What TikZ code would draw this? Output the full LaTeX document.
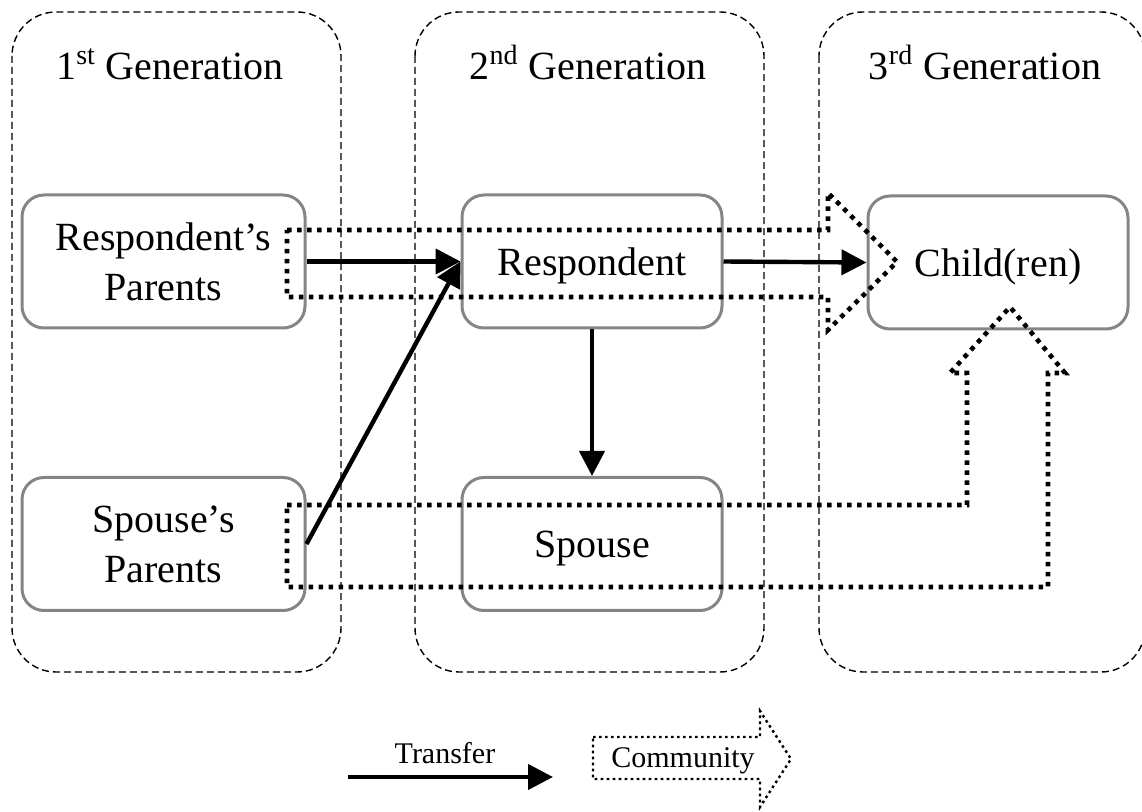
\documentclass[tikz,border=0pt]{standalone}
\usepackage{fontspec}
\setmainfont{Liberation Serif}
\usepackage{tikz}
\usetikzlibrary{arrows.meta,calc}
\definecolor{boxGray}{HTML}{858585}

\begin{document}
\begin{tikzpicture}[x=0.5pt,y=-0.5pt,
  person/.style={draw=boxGray,line width=1.5pt,rounded corners=11pt,inner sep=0pt,
    minimum height=66.5pt,align=center,font=\fontsize{20}{25}\selectfont},
  single/.style={person,text depth=0pt},
  genbox/.style={draw,line width=0.7pt,dash pattern=on 3.5pt off 2pt,rounded corners=22pt},
  gentitle/.style={anchor=base,font=\fontsize{20}{24}\selectfont},
  transfer/.style={line width=2.2pt,-{Triangle[length=12.5pt,width=12.5pt]}},
  community/.style={line width=2.3pt,dash pattern=on 2.3pt off 2.7pt,miter limit=4},
  legendtext/.style={anchor=base,font=\fontsize{15}{18}\selectfont}]
\useasboundingbox (0,0) rectangle (1142,812);
% kusaklar
\foreach \xa/\xb in {12/341,415/764,819/1145}
  \draw[genbox] (\xa,12) rectangle (\xb,672);
\node[gentitle] (gen1) at (170,80) {1\textsuperscript{st} Generation};
\node[gentitle] (gen2) at (588,80) {2\textsuperscript{nd} Generation};
\node[gentitle] (gen3) at (985,80) {3\textsuperscript{rd} Generation};
% kisiler
\node[person,minimum width=141.5pt] (rp) at (163.5,261.5) {Respondent’s\\Parents};
\node[person,minimum width=141.5pt] (sp) at (163.5,544) {Spouse’s\\Parents};
\node[single,minimum width=130pt] (resp) at (592,261.5) {Respondent};
\node[single,minimum width=130pt] (spouse) at (592,544) {Spouse};
\node[single,minimum width=130pt] (child) at (998,262.5) {Child(ren)};
% community oklari
\draw[community] (287,230) -- (828,230) -- (828,193) -- (897,262) -- (828,330)
  -- (828,297) -- (287,297) -- cycle;
\draw[community] (287,505) -- (967,505) -- (967,373) -- (950,373) -- (1010,307)
  -- (1065,373) -- (1048,373) -- (1048,587) -- (287,587) -- cycle;
% transfer oklari
\draw[transfer] (rp.east) -- (resp.west);
\draw[transfer] (sp.east) -- (resp.west);
\draw[transfer] (resp.east) -- (child.west);
\draw[transfer] (resp.south) -- (spouse.north);
% aciklama
\coordinate (lgA) at (348,777);
\coordinate (lgB) at (553,777);
\draw[transfer] (lgA) -- (lgB);
\node[legendtext] (lgT) at (445,763) {Transfer};
\draw[community,line width=1.2pt,dash pattern=on 1.3pt off 1.7pt]
  (593,737) -- (760,737) -- (760,711) -- (791,759) -- (760,807) -- (760,779)
  -- (593,779) -- cycle;
\node[legendtext] (lgC) at (683,768) {Community};
\end{tikzpicture}
\end{document}
